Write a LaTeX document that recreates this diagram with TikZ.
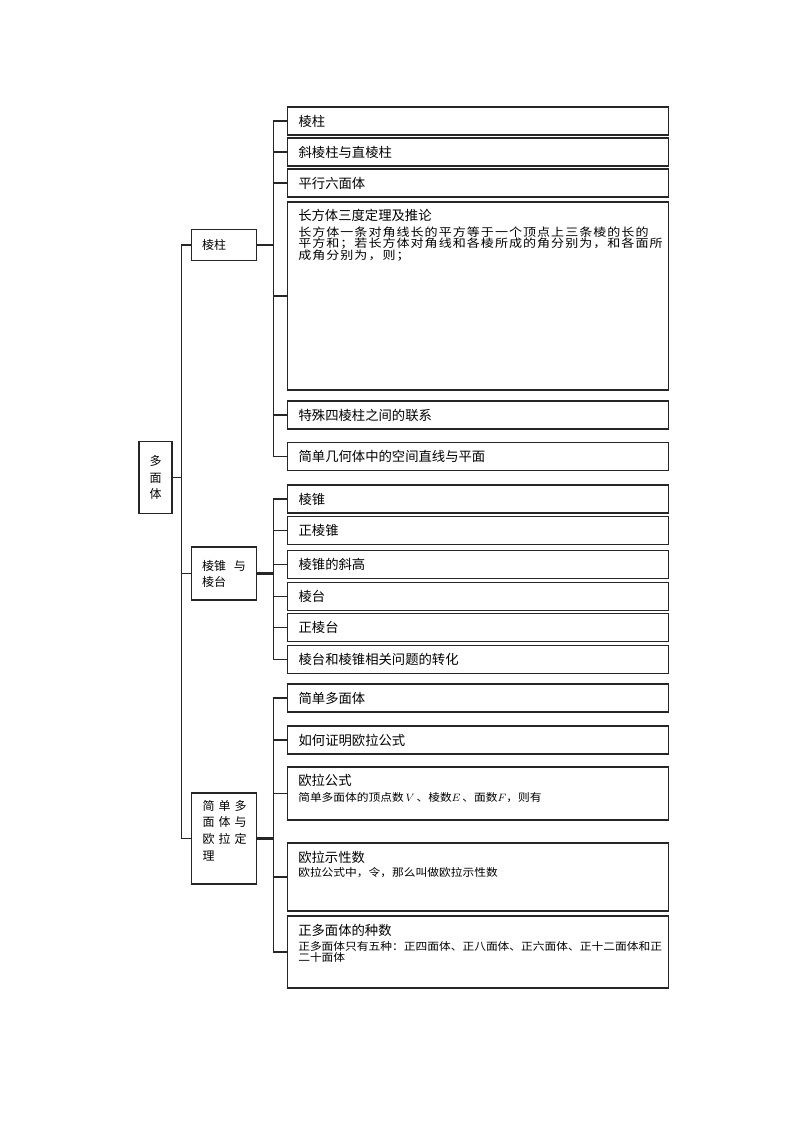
\documentclass[tikz,border=0pt]{standalone}
\usepackage{fontspec}
\setmainfont{Noto Sans CJK SC}
\newfontfamily\flatcjk[FakeStretch=1.1]{Noto Sans CJK SC}
\newfontfamily\widecjk[FakeStretch=1.15,LetterSpace=9]{Noto Sans CJK SC}
\usepackage{tikz}
\usetikzlibrary{positioning}
\newlength{\unitpx}
\setlength{\unitpx}{0.75pt}
\newcommand{\tri}[1]{\makebox[44\unitpx][s]{#1}}

\begin{document}
\begin{tikzpicture}[x=0.75pt,y=-0.75pt]
			\tikzstyle{Frame}	= [draw=black!85, line width=0.9pt]
			\tikzstyle{Root}	= [Frame, minimum width=33\unitpx, minimum height=72\unitpx, inner sep=0pt, align=center, font=\fontsize{9pt}{12.5pt}\selectfont]
			\tikzstyle{Group}	= [Frame, text width=44\unitpx, inner xsep=10.5\unitpx, inner ysep=0pt, align=left, font=\fontsize{9pt}{12pt}\selectfont]
			\tikzstyle{Leaf}	= [Frame, anchor=west, minimum height=28\unitpx, text width=359\unitpx, inner xsep=11\unitpx, inner ysep=0pt, align=left, font=\fontsize{10pt}{12pt}\selectfont]
			\tikzstyle{Head}	= [inner sep=0pt, anchor=base west, font=\fontsize{10pt}{12pt}\selectfont]
			\tikzstyle{Body}	= [inner sep=0pt, anchor=north west, align=left, font={\flatcjk\fontsize{8pt}{8.4pt}\selectfont\lineskiplimit=-5pt}]
			\tikzstyle{Wide}	= [Body, font={\widecjk\fontsize{8.5pt}{8.6pt}\selectfont\lineskiplimit=-5pt}]
			\tikzstyle{Link}	= [draw=black!85, line width=0.9pt]
			\tikzstyle{Stub}	= [Link, line width=1.6pt]

			\useasboundingbox (0,0) rectangle (800,1132);

			\node (r) at (155.5,477.5) [Root] {多\\面\\体};
			\node (pA) at (224,245) [Group, minimum height=31\unitpx] {棱柱};
			\node (pB) at (224,573.5) [Group, minimum height=53\unitpx] {\tri{棱锥\hfill 与}\\棱台};
			\node (pC) at (224,838.5) [Group, minimum height=91\unitpx] {};
			\node (pCt) at (202,799.5) [Group, draw=none, anchor=north west, inner xsep=0pt, font=\fontsize{9pt}{12.5pt}\selectfont] {\tri{简\hfill 单\hfill 多}\\\tri{面\hfill 体\hfill 与}\\\tri{欧\hfill 拉\hfill 定}\\理};

			\foreach \n/\y/\t in {1/121/棱柱, 2/152/斜棱柱与直棱柱, 3/183/平行六面体, 5/415/特殊四棱柱之间的联系, 6/456.5/简单几何体中的空间直线与平面}
				\node (a\n) at (287,\y) [Leaf] {\t};
			\node (a4) at (287,296) [Leaf, minimum height=188\unitpx] {};
			\node (a4h) at (298,220) [Head] {长方体三度定理及推论};
			\node (a4b) at (298,226.5) [Wide] {长方体一条对角线长的平方等于一个顶点上三条棱的长的\\平方和；若长方体对角线和各棱所成的角分别为，和各面所\\成角分别为，则；};

			\foreach \n/\y/\t in {1/499/棱锥, 2/530.5/正棱锥, 3/564.5/棱锥的斜高, 4/596.5/棱台, 5/627.5/正棱台, 6/659.5/棱台和棱锥相关问题的转化}
				\node (b\n) at (287,\y) [Leaf] {\t};

			\foreach \n/\y/\t in {1/698/简单多面体, 2/740/如何证明欧拉公式}
				\node (c\n) at (287,\y) [Leaf] {\t};
			\node (c3) at (287,793.5) [Leaf, minimum height=53\unitpx] {};
			\node (c4) at (287,877) [Leaf, minimum height=68\unitpx] {};
			\node (c5) at (287,952) [Leaf, minimum height=72\unitpx] {};
			\node (c3h) at (298,785) [Head] {欧拉公式};
			\node (c3b) at (298,792) [Body] {简单多面体的顶点数\,$V$\,、棱数$E$\,、面数$F$，则有};
			\node (c4h) at (298,862) [Head] {欧拉示性数};
			\node (c4b) at (298,867) [Body] {欧拉公式中，令，那么叫做欧拉示性数};
			\node (c5h) at (298,935) [Head] {正多面体的种数};
			\node (c5b) at (298,941) [Body] {正多面体只有五种：正四面体、正八面体、正六面体、正十二面体和正\\二十面体};

			\foreach \g in {A,B,C}
				\draw [Link] (r.east) -- ++(9,0) |- (p\g.west);
			\foreach \n in {1,...,6}
				\draw [Link] (pA.east) -- ++(16,0) |- (a\n.west);
			\foreach \n in {1,...,6}
				\draw [Link] (pB.east) -- ++(16,0) |- (b\n.west);
			\foreach \n in {1,...,5}
				\draw [Link] (pC.east) -- ++(16,0) |- (c\n.west);
			\foreach \g in {A,B,C}
				\draw [Stub] (p\g.east) -- ++(16,0);
		\end{tikzpicture}
\end{document}
